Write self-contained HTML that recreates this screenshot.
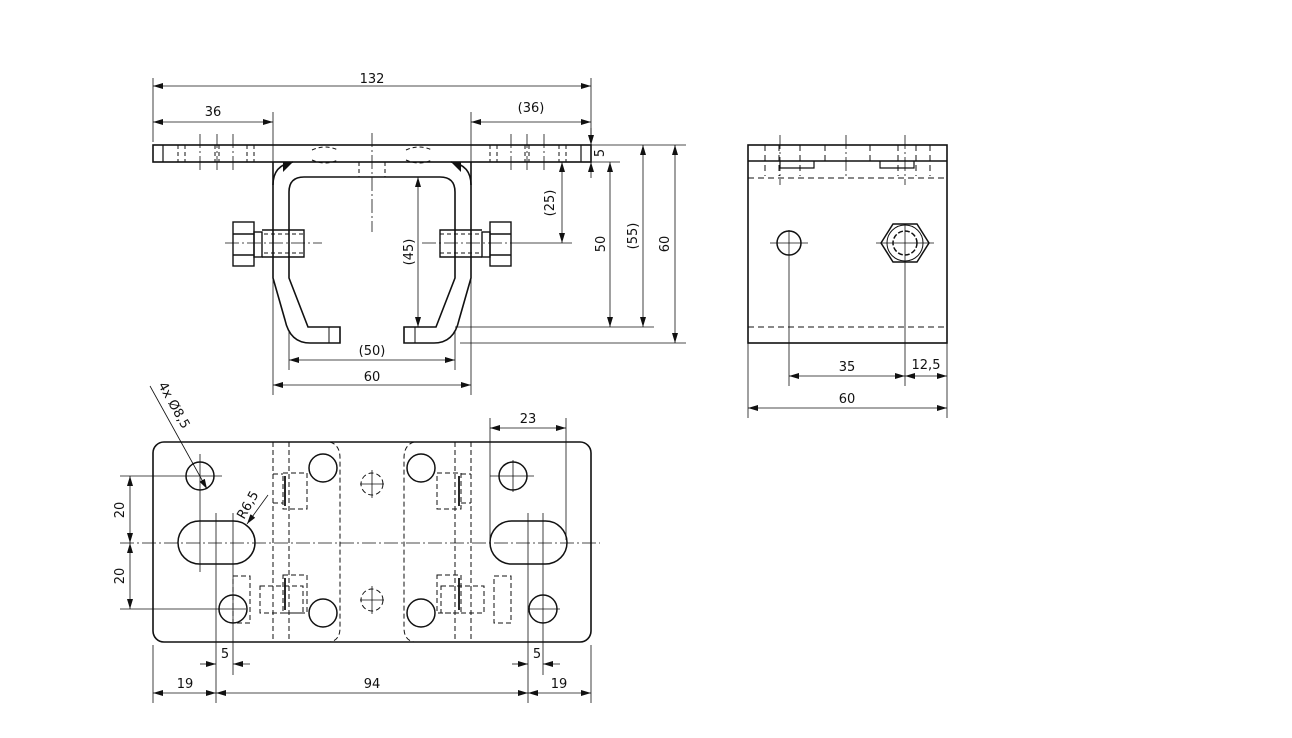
<!DOCTYPE html>
<html><head><meta charset="utf-8"><style>
html,body{margin:0;padding:0;background:#fff;}
svg{display:block;}
text{font-family:"DejaVu Sans","Liberation Sans",sans-serif;font-size:13px;fill:#111;}
</style></head><body>
<svg width="1292" height="738" viewBox="0 0 1292 738" xmlns="http://www.w3.org/2000/svg">
<defs>
<marker id="a" viewBox="0 0 10 6" refX="10" refY="3" markerWidth="10" markerHeight="6" orient="auto-start-reverse" markerUnits="userSpaceOnUse"><path d="M0,0 L10,3 L0,6 z" fill="#111"/></marker>
</defs>
<g fill="none" stroke="#111">
<!-- ============ FRONT VIEW ============ -->
<rect x="153" y="145" width="438" height="17" stroke-width="1.6"/>
<line x1="163" y1="145" x2="163" y2="162" stroke-width="1.2"/>
<line x1="581" y1="145" x2="581" y2="162" stroke-width="1.2"/>
<g stroke-width="1" stroke-dasharray="4,3">
<line x1="178" y1="145" x2="178" y2="162"/><line x1="185" y1="145" x2="185" y2="162"/>
<line x1="215" y1="145" x2="215" y2="162"/><line x1="219" y1="145" x2="219" y2="162"/>
<line x1="247" y1="145" x2="247" y2="162"/><line x1="254" y1="145" x2="254" y2="162"/>
<line x1="566" y1="145" x2="566" y2="162"/><line x1="559" y1="145" x2="559" y2="162"/>
<line x1="529" y1="145" x2="529" y2="162"/><line x1="525" y1="145" x2="525" y2="162"/>
<line x1="497" y1="145" x2="497" y2="162"/><line x1="490" y1="145" x2="490" y2="162"/>
<line x1="359" y1="162" x2="359" y2="177"/><line x1="385" y1="162" x2="385" y2="177"/>
<path d="M312,150 Q325,144 338,150 M406,150 Q419,144 432,150 M312,160 Q325,166 338,160 M406,160 Q419,166 432,160"/>
</g>
<g stroke-width="0.8" stroke-dasharray="14,3,2,3">
<line x1="200" y1="134" x2="200" y2="172"/><line x1="233" y1="134" x2="233" y2="172"/>
<line x1="511" y1="134" x2="511" y2="172"/><line x1="544" y1="134" x2="544" y2="172"/>
<line x1="217" y1="134" x2="217" y2="172"/><line x1="527" y1="134" x2="527" y2="172"/>
<line x1="372" y1="133" x2="372" y2="232"/>
</g>
<!-- bracket -->
<path d="M273,162 L273,278 L285,320 Q290,343 310,343 L340,343 L340,327 L308,327 L289,278 L289,192 Q289,177 304,177 L440,177 Q455,177 455,192 L455,278 L436,327 L404,327 L404,343 L434,343 Q454,343 459,320 L471,278 L471,162" stroke-width="1.6"/>
<path d="M273,185 Q273,165 293,162 M471,185 Q471,165 451,162" stroke-width="1.6"/>
<path d="M283,162 L293,162 L283,172 z M461,162 L451,162 L461,172 z" fill="#111" stroke="none"/>
<line x1="329" y1="327" x2="329" y2="343" stroke-width="1"/><line x1="415" y1="327" x2="415" y2="343" stroke-width="1"/>
<!-- bolts -->
<g stroke-width="1.4">
<rect x="233" y="222" width="21" height="44"/><line x1="233" y1="234" x2="254" y2="234"/><line x1="233" y1="255" x2="254" y2="255"/>
<rect x="254" y="232" width="8" height="25"/>
<path d="M262,230 L304,230 L304,257 L262,257"/>
<rect x="490" y="222" width="21" height="44"/><line x1="490" y1="234" x2="511" y2="234"/><line x1="490" y1="255" x2="511" y2="255"/>
<rect x="482" y="232" width="8" height="25"/>
<path d="M482,230 L440,230 L440,257 L482,257"/>
</g>
<g stroke-width="1" stroke-dasharray="4,3">
<line x1="264" y1="234" x2="304" y2="234"/><line x1="264" y1="253" x2="304" y2="253"/>
<line x1="440" y1="234" x2="480" y2="234"/><line x1="440" y1="253" x2="480" y2="253"/>
</g>
<g stroke-width="0.8" stroke-dasharray="14,3,2,3">
<line x1="225" y1="243" x2="322" y2="243"/><line x1="422" y1="243" x2="520" y2="243"/>
</g>
<!-- front dims -->
<g stroke-width="0.8">
<line x1="153" y1="78" x2="153" y2="142"/><line x1="591" y1="78" x2="591" y2="142"/>
<line x1="273" y1="112" x2="273" y2="395"/><line x1="471" y1="112" x2="471" y2="395"/>
<line x1="289" y1="330" x2="289" y2="370"/><line x1="455" y1="330" x2="455" y2="370"/>
<line x1="591" y1="145" x2="686" y2="145"/><line x1="591" y1="162" x2="620" y2="162"/>
<line x1="520" y1="243" x2="572" y2="243"/>
<line x1="455" y1="327" x2="654" y2="327"/><line x1="460" y1="343" x2="686" y2="343"/>
<line x1="153" y1="86" x2="591" y2="86" marker-start="url(#a)" marker-end="url(#a)"/>
<line x1="153" y1="122" x2="273" y2="122" marker-start="url(#a)" marker-end="url(#a)"/>
<line x1="471" y1="122" x2="591" y2="122" marker-start="url(#a)" marker-end="url(#a)"/>
<line x1="591" y1="128" x2="591" y2="145" marker-end="url(#a)"/><line x1="591" y1="178" x2="591" y2="162" marker-end="url(#a)"/>
<line x1="562" y1="162" x2="562" y2="243" marker-start="url(#a)" marker-end="url(#a)"/>
<line x1="610" y1="162" x2="610" y2="327" marker-start="url(#a)" marker-end="url(#a)"/>
<line x1="643" y1="145" x2="643" y2="327" marker-start="url(#a)" marker-end="url(#a)"/>
<line x1="675" y1="145" x2="675" y2="343" marker-start="url(#a)" marker-end="url(#a)"/>
<line x1="418" y1="177" x2="418" y2="327" marker-start="url(#a)" marker-end="url(#a)"/>
<line x1="289" y1="360" x2="455" y2="360" marker-start="url(#a)" marker-end="url(#a)"/>
<line x1="273" y1="385" x2="471" y2="385" marker-start="url(#a)" marker-end="url(#a)"/>
</g>
<!-- ============ SIDE VIEW ============ -->
<rect x="748" y="145" width="199" height="198" stroke-width="1.6"/>
<line x1="748" y1="161" x2="947" y2="161" stroke-width="1.4"/>
<g stroke-width="1" stroke-dasharray="6,4">
<line x1="748" y1="178" x2="947" y2="178"/><line x1="748" y1="327" x2="947" y2="327"/>
<line x1="765" y1="145" x2="765" y2="176"/><line x1="779" y1="145" x2="779" y2="176"/><line x1="800" y1="145" x2="800" y2="176"/>
<line x1="898" y1="145" x2="898" y2="176"/><line x1="916" y1="145" x2="916" y2="176"/><line x1="930" y1="145" x2="930" y2="176"/>
<line x1="825" y1="145" x2="825" y2="161"/><line x1="870" y1="145" x2="870" y2="161"/>
</g>
<path d="M780,161 L780,168 L814,168 L814,161 M880,161 L880,168 L914,168 L914,161" stroke-width="1.2"/>
<circle cx="789" cy="243" r="12" stroke-width="1.5"/>
<path d="M881,243 L893,224 L917,224 L929,243 L917,262 L893,262 z" stroke-width="1.5"/>
<circle cx="905" cy="243" r="18" stroke-width="1"/>
<circle cx="905" cy="243" r="12" stroke-width="1.5" stroke-dasharray="5,2"/>
<g stroke-width="0.8" stroke-dasharray="14,3,2,3">
<line x1="846" y1="135" x2="846" y2="178"/><line x1="780" y1="135" x2="780" y2="185"/><line x1="905" y1="135" x2="905" y2="185"/>
</g>
<g stroke-width="0.8">
<line x1="770" y1="243" x2="808" y2="243"/><line x1="876" y1="243" x2="934" y2="243"/>
<line x1="789" y1="230" x2="789" y2="386"/><line x1="905" y1="224" x2="905" y2="386"/>
<line x1="748" y1="343" x2="748" y2="418"/><line x1="947" y1="343" x2="947" y2="418"/>
<line x1="789" y1="376" x2="905" y2="376" marker-start="url(#a)" marker-end="url(#a)"/>
<line x1="905" y1="376" x2="947" y2="376" marker-start="url(#a)" marker-end="url(#a)"/>
<line x1="748" y1="408" x2="947" y2="408" marker-start="url(#a)" marker-end="url(#a)"/>
</g>
<!-- ============ BOTTOM VIEW ============ -->
<rect x="153" y="442" width="438" height="200" rx="11" stroke-width="1.6"/>
<g stroke-width="1.5">
<circle cx="200" cy="476" r="14"/><circle cx="323" cy="468" r="14"/><circle cx="421" cy="468" r="14"/><circle cx="513" cy="476" r="14"/>
<circle cx="233" cy="609" r="14"/><circle cx="323" cy="613" r="14"/><circle cx="421" cy="613" r="14"/><circle cx="543" cy="609" r="14"/>
<rect x="178" y="521" width="77" height="43" rx="21.5"/><rect x="490" y="521" width="77" height="43" rx="21.5"/>
</g>
<g stroke-width="1" stroke-dasharray="5,3">
<line x1="273" y1="442" x2="273" y2="642"/><line x1="289" y1="442" x2="289" y2="642"/>
<line x1="455" y1="442" x2="455" y2="642"/><line x1="471" y1="442" x2="471" y2="642"/>
<path d="M330,442 Q340,445 340,458 L340,628 Q340,640 330,642"/>
<path d="M414,442 Q404,445 404,458 L404,628 Q404,640 414,642"/>
<circle cx="372" cy="484" r="11"/><circle cx="372" cy="600" r="11"/>
<rect x="283" y="473" width="24" height="36"/><rect x="437" y="473" width="24" height="36"/>
<path d="M273,474 L283,474 M273,503 L283,503 M461,474 L471,474 M461,503 L471,503"/>
<rect x="283" y="575" width="24" height="38"/><rect x="437" y="575" width="24" height="38"/>
<rect x="233" y="576" width="17" height="47"/><rect x="494" y="576" width="17" height="47"/>
<rect x="260" y="586" width="43" height="27"/><rect x="441" y="586" width="43" height="27"/>
</g>
<g stroke-width="1.8"><line x1="285" y1="476" x2="285" y2="506"/><line x1="459" y1="476" x2="459" y2="506"/><line x1="285" y1="578" x2="285" y2="610"/><line x1="459" y1="578" x2="459" y2="610"/></g>
<g stroke-width="0.8" stroke-dasharray="14,3,2,3">
<line x1="120" y1="543" x2="600" y2="543"/>
</g>
<g stroke-width="0.8">
<line x1="360" y1="484" x2="384" y2="484"/><line x1="372" y1="470" x2="372" y2="498"/>
<line x1="360" y1="600" x2="384" y2="600"/><line x1="372" y1="586" x2="372" y2="614"/>
<line x1="120" y1="476" x2="222" y2="476"/><line x1="200" y1="454" x2="200" y2="572"/>
<line x1="120" y1="609" x2="246" y2="609"/>
<line x1="490" y1="476" x2="534" y2="476"/><line x1="513" y1="460" x2="513" y2="492"/>
<line x1="528" y1="609" x2="560" y2="609"/>
<line x1="216" y1="513" x2="216" y2="703"/><line x1="233" y1="513" x2="233" y2="675"/>
<line x1="528" y1="513" x2="528" y2="703"/><line x1="543" y1="513" x2="543" y2="675"/>
<line x1="490" y1="418" x2="490" y2="540"/><line x1="566" y1="418" x2="566" y2="540"/>
<line x1="153" y1="645" x2="153" y2="703"/><line x1="591" y1="645" x2="591" y2="703"/>
<line x1="130" y1="476" x2="130" y2="543" marker-start="url(#a)" marker-end="url(#a)"/>
<line x1="130" y1="543" x2="130" y2="609" marker-start="url(#a)" marker-end="url(#a)"/>
<line x1="490" y1="428" x2="566" y2="428" marker-start="url(#a)" marker-end="url(#a)"/>
<line x1="200" y1="664" x2="216" y2="664" marker-end="url(#a)"/><line x1="250" y1="664" x2="233" y2="664" marker-end="url(#a)"/>
<line x1="512" y1="664" x2="528" y2="664" marker-end="url(#a)"/><line x1="560" y1="664" x2="543" y2="664" marker-end="url(#a)"/>
<line x1="153" y1="693" x2="216" y2="693" marker-start="url(#a)" marker-end="url(#a)"/>
<line x1="216" y1="693" x2="528" y2="693" marker-start="url(#a)" marker-end="url(#a)"/>
<line x1="528" y1="693" x2="591" y2="693" marker-start="url(#a)" marker-end="url(#a)"/>
<line x1="150" y1="386" x2="207" y2="489" marker-end="url(#a)"/>
<line x1="268" y1="495" x2="247" y2="524" marker-end="url(#a)"/>
</g>
</g>
<!-- texts -->
<g text-anchor="middle">
<text x="372" y="83">132</text>
<text x="213" y="116">36</text>
<text x="531" y="112">(36)</text>
<text x="372" y="355">(50)</text>
<text x="372" y="381">60</text>
<text x="847" y="371">35</text>
<text x="926" y="369">12,5</text>
<text x="847" y="403">60</text>
<text x="528" y="423">23</text>
<text x="225" y="658">5</text>
<text x="537" y="658">5</text>
<text x="185" y="688">19</text>
<text x="372" y="688">94</text>
<text x="559" y="688">19</text>
<text transform="translate(604,153) rotate(-90)">5</text>
<text transform="translate(554,203) rotate(-90)">(25)</text>
<text transform="translate(605,244) rotate(-90)">50</text>
<text transform="translate(637,236) rotate(-90)">(55)</text>
<text transform="translate(669,244) rotate(-90)">60</text>
<text transform="translate(413,252) rotate(-90)">(45)</text>
<text transform="translate(124,510) rotate(-90)">20</text>
<text transform="translate(124,576) rotate(-90)">20</text>
</g>
<text transform="translate(158,385) rotate(61)">4x Ø8,5</text>
<text transform="translate(244,520) rotate(-60)">R6,5</text>
</svg>
</body></html>
